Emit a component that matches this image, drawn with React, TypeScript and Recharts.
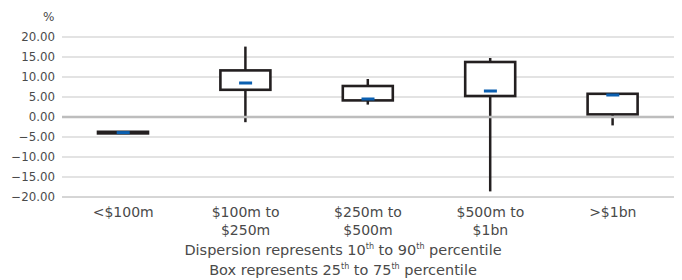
import {
  ComposedChart,
  Bar,
  Scatter,
  XAxis,
  YAxis,
  CartesianGrid,
  ReferenceLine,
} from "recharts";

const categories = ["<$100m", "$100m to\n$250m", "$250m to\n$500m", "$500m to\n$1bn", ">$1bn"];
const p10 = [-4.0, -1.3, 3.1, -18.6, -2.1];
const q1 = [-4.1, 6.8, 4.15, 5.25, 0.65];
const median = [-3.9, 8.5, 4.5, 6.5, 5.5];
const q3 = [-3.7, 11.65, 7.75, 13.75, 5.8];
const p90 = [-3.7, 17.6, 9.5, 14.75, 5.8];
const yTicks = [-20, -15, -10, -5, 0, 5, 10, 15, 20];

const FONT = "'DejaVu Sans', sans-serif";

const data = categories.map((c, i) => ({
  cat: c,
  whisker: [p10[i], p90[i]],
  box: [q1[i], q3[i]],
  median: median[i],
}));

const fmtY = (v: number) => {
  const s = Math.abs(v).toFixed(2);
  return v < 0 ? `\u2212${s}` : s;
};

// vertical line for 10th-90th
const WhiskerShape = (props: any) => {
  const { x, y, width, height } = props;
  const top = Math.min(y, y + height);
  const bot = Math.max(y, y + height);
  const cx = x + width / 2;
  return <line x1={cx} x2={cx} y1={top} y2={bot} stroke="#231f20" strokeWidth={2.5} />;
};

const BoxShape = (props: any) => {
  const { x, y, width, height } = props;
  const top = Math.min(y, y + height);
  const h = Math.abs(height);
  return (
    <rect x={x} y={top} width={width} height={h} fill="#fff" stroke="#231f20" strokeWidth={2.6} />
  );
};

const MedianShape = (props: any) => {
  const { cx, cy } = props;
  return <rect x={cx - 6.5} y={cy - 1.5} width={13} height={3} fill="#0a5fb0" />;
};

const CatTick = (props: any) => {
  const { x, y, payload } = props;
  const lines = String(payload.value).split("\n");
  return (
    <text x={x} y={y} textAnchor="middle" fill="#4a4a4a" fontSize={14} fontFamily={FONT}>
      {lines.map((l, i) => (
        <tspan key={i} x={x} dy={i === 0 ? 11.5 : 18.5}>
          {l}
        </tspan>
      ))}
    </text>
  );
};

const supStyle = { fontSize: 8, verticalAlign: "super", lineHeight: 0 } as const;

export default function App() {
  return (
    <div style={{ position: "absolute", left: 0, top: 0, width: 682, height: 280, background: "#fff", fontFamily: FONT }}>
      <div style={{ position: "absolute", left: 43, top: 10, fontSize: 12, color: "#4a4a4a" }}>%</div>
      <ComposedChart
        width={682}
        height={240}
        data={data}
        margin={{ top: 37, right: 8, bottom: 0, left: 0 }}
      >
        <CartesianGrid vertical={false} stroke="#c8c8c8" strokeWidth={1.2} />
        <XAxis
          xAxisId="main"
          dataKey="cat"
          height={43}
          interval={0}
          tick={<CatTick />}
          tickLine={false}
          axisLine={{ stroke: "#c8c8c8" }}
        />
        <XAxis xAxisId="over" dataKey="cat" hide />
        <YAxis
          domain={[-20, 20]}
          ticks={yTicks}
          width={62}
          tickFormatter={fmtY}
          tickSize={0}
          tickMargin={7}
          axisLine={false}
          tick={{ fill: "#4a4a4a", fontSize: 11.8, fontFamily: FONT }}
          interval={0}
        />
        <ReferenceLine xAxisId="main" y={0} stroke="#bdbdbd" strokeWidth={2.5} />
        <Bar
          xAxisId="main"
          dataKey="whisker"
          barSize={50}
          shape={<WhiskerShape />}
          isAnimationActive={false}
        />
        <Bar
          xAxisId="over"
          dataKey="box"
          barSize={50}
          shape={<BoxShape />}
          isAnimationActive={false}
        />
        <Scatter
          xAxisId="main"
          dataKey="median"
          shape={<MedianShape />}
          isAnimationActive={false}
        />
      </ComposedChart>
      <div style={{ position: "absolute", left: 0, width: 686, top: 240, textAlign: "center", fontSize: 14.5, color: "#4a4a4a", lineHeight: "20px" }}>
        <div>
          Dispersion represents 10<span style={supStyle}>th</span> to 90<span style={supStyle}>th</span> percentile
        </div>
        <div>
          Box represents 25<span style={supStyle}>th</span> to 75<span style={supStyle}>th</span> percentile
        </div>
      </div>
    </div>
  );
}
